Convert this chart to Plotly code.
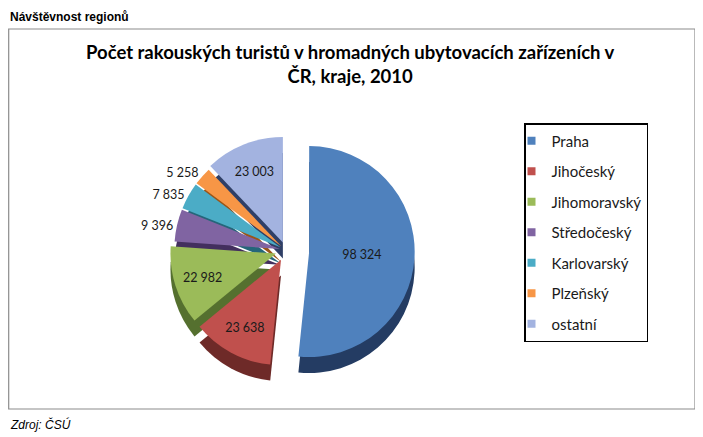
import plotly.graph_objects as go

# DATA
regions = ["Praha", "Jihočeský", "Jihomoravský", "Středočeský",
           "Karlovarský", "Plzeňský", "ostatní"]
tourists = [98324, 23638, 22982, 9396, 7835, 5258, 23003]
colors = ["#4F81BD", "#C0504D", "#9BBB59", "#8064A2",
          "#4BACC6", "#F79646", "#A3B3E0"]
shades = ["#243C63", "#6E2A28", "#55702F", "#432F5E",
          "#25667A", "#9A5518", "#2F3F66"]
pulls = [0.22, 0.1, 0.1, 0.06, 0.06, 0.06, 0.08]
text_pos = ["inside", "inside", "inside", "outside", "outside", "outside", "inside"]

labels_txt = [f"{v:,}".replace(",", " ") for v in tourists]

# page body adds 8px, so the figure is a bit smaller than the window
W, H = 695, 429


def px(x):
    return (x - 8) / W


def py(y):
    return 1 - (y - 8) / H


fig = go.Figure()

# darker copy underneath gives the 3d rim
fig.add_trace(go.Pie(
    labels=regions, values=tourists, sort=False, direction="clockwise", rotation=0,
    pull=pulls, marker_colors=shades, marker_line_width=0, textinfo="none",
    showlegend=False, hoverinfo="skip",
    domain=dict(x=[0.15, 0.65], y=[0.098, 0.698]),
))
fig.add_trace(go.Pie(
    labels=regions, values=tourists, sort=False, direction="clockwise", rotation=0,
    pull=pulls, marker_colors=colors, marker_line_width=0,
    text=labels_txt, textinfo="text", textposition=text_pos,
    insidetextorientation="horizontal",
    textfont=dict(family="Lato", size=12.5, color="#1a1a1a"),
    showlegend=False, domain=dict(x=[0.15, 0.65], y=[0.135, 0.735]),
    hovertemplate="<b>%{label}</b><br>%{text}<extra></extra>",
))

# legend entries, one group each so the spacing can be opened up
for name, col in zip(regions, colors):
    fig.add_trace(go.Scatter(
        x=[None], y=[None], mode="markers", name=name, legendgroup=name,
        marker=dict(symbol="square", size=8, color=col),
    ))

fig.update_layout(
    width=W, height=H,
    margin=dict(l=0, r=0, t=0, b=0, autoexpand=False),
    plot_bgcolor="white", paper_bgcolor="white",
    xaxis=dict(visible=False), yaxis=dict(visible=False),
    legend=dict(
        x=px(524), y=py(123), xanchor="left", yanchor="top",
        bordercolor="black", borderwidth=1.5,
        font=dict(family="Lato", size=15, color="#1a1a1a"),
        tracegroupgap=8, itemwidth=30, indentation=-14,
    ),
    shapes=[dict(type="rect", xref="paper", yref="paper",
                 x0=0.001, x1=px(695), y0=py(409), y1=py(29),
                 line=dict(color="#8c8c8c", width=1.2))],
    annotations=[
        dict(text="<b>Počet rakouských turistů v hromadných ubytovacích zařízeních v<br>ČR, kraje, 2010</b>",
             x=px(350), y=py(39), xref="paper", yref="paper",
             xanchor="center", yanchor="top", showarrow=False,
             font=dict(family="Lato", size=18.5, color="black")),
        dict(text="<b>Návštěvnost regionů</b>", x=0, y=1,
             xref="paper", yref="paper", xanchor="left", yanchor="top",
             showarrow=False, font=dict(family="Liberation Sans", size=12, color="black")),
        dict(text="<i>Zdroj: ČSÚ</i>", x=0, y=py(424),
             xref="paper", yref="paper", xanchor="left", yanchor="middle",
             showarrow=False, font=dict(family="Liberation Sans", size=12, color="black")),
    ],
)

fig.write_html("out.html")
